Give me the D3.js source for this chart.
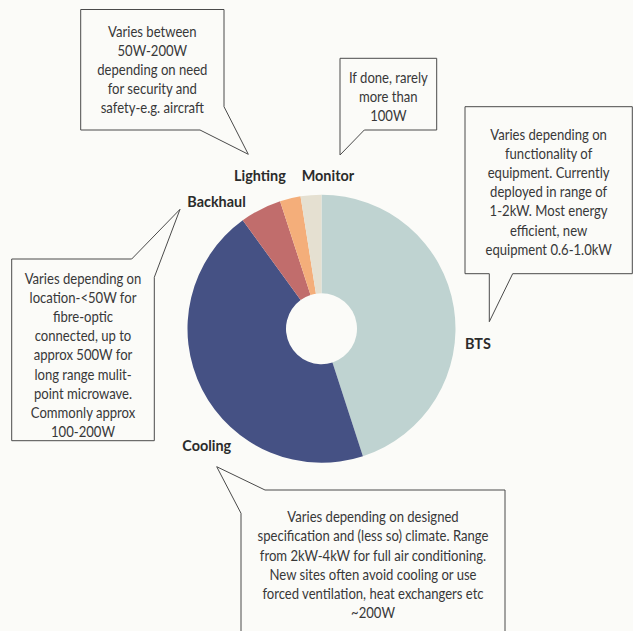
<!DOCTYPE html>
<html>
<head>
<meta charset="utf-8">
<script src="https://cdn.jsdelivr.net/npm/d3@7"></script>
<style>
  html, body { margin: 0; padding: 0; background: #fbfbf8; }
  svg { display: block; }
  .note { font-family: Lato, "Liberation Sans", sans-serif; font-size: 15.5px; fill: #383838; }
  .label { font-family: Lato, "Liberation Sans", sans-serif; font-size: 16px; font-weight: bold; fill: #2b2b2b; }
  .bubble { fill: #fbfbf8; stroke: #4a4a4a; stroke-width: 1; }
</style>
</head>
<body>
<svg id="chart" width="633" height="631"></svg>
<script>
// Share of site power by component (%)
const categories = ["BTS", "Cooling", "Backhaul", "Lighting", "Monitor"];
const shares = [45, 45, 5, 2.5, 2.5];
const sliceColors = ["#bfd3d1", "#455184", "#c16d6c", "#f4ae7a", "#e5e0d1"];

// Explanatory notes, one line per array entry
const notesBTS = ["Varies depending on", "functionality of", "equipment. Currently", "deployed in range of", "1-2kW. Most energy", "efficient, new", "equipment 0.6-1.0kW"];
const notesCooling = ["Varies depending on designed", "specification and (less so) climate. Range", "from 2kW-4kW for full air conditioning.", "New sites often avoid cooling or use", "forced ventilation, heat exchangers etc", "~200W"];
const notesBackhaul = ["Varies depending on", "location-<50W for", "fibre-optic", "connected, up to", "approx 500W for", "long range mulit-", "point microwave.", "Commonly approx", "100-200W"];
const notesLighting = ["Varies between", "50W-200W", "depending on need", "for security and", "safety-e.g. aircraft"];
const notesMonitor = ["If done, rarely", "more than", "100W"];

const svg = d3.select("#chart");
const cx = 321.5, cy = 328.7, rOuter = 134, rInner = 35.5;
// condensed look: horizontal squeeze applied to all text
const noteSqueeze = 0.845, labelSqueeze = 0.9;

const pie = d3.pie().sort(null).value(d => d.value);
const arc = d3.arc().innerRadius(rInner).outerRadius(rOuter);
const data = categories.map((c, i) => ({ name: c, value: shares[i], color: sliceColors[i] }));

svg.append("g")
  .attr("transform", `translate(${cx},${cy})`)
  .selectAll("path")
  .data(pie(data))
  .join("path")
  .attr("d", arc)
  .attr("fill", d => d.data.color);

// Callout bubbles: box outline with a pointer tail towards the label
const bubbles = [
  { name: "Lighting", lines: notesLighting, cx: 152.3, midY: 69.5,
    pts: [[80.7, 9.5], [224, 9.5], [224, 106.7], [248.3, 154.3], [200, 130], [80.7, 130]], closed: true },
  { name: "Monitor", lines: notesMonitor, cx: 388.3, midY: 96.7,
    pts: [[340, 58.3], [436.7, 58.3], [436.7, 130], [364.3, 130], [340, 155]], closed: true },
  { name: "BTS", lines: notesBTS, cx: 548.6, midY: 191.7,
    pts: [[465, 106.7], [632.3, 106.7], [632.3, 273.7], [512.7, 273.7], [489.3, 321.7], [489.3, 273.7], [465, 273.7]], closed: true },
  { name: "Backhaul", lines: notesBackhaul, cx: 83, midY: 355,
    pts: [[11.7, 259], [131.7, 259], [180, 209.3], [154.3, 277.3], [154.3, 440.7], [11.7, 440.7]], closed: true },
  { name: "Cooling", lines: notesCooling, cx: 373, midY: 564.7,
    pts: [[505, 645], [505, 490], [265, 490], [216.7, 466.7], [241, 513.3], [241, 645]], closed: false }
];

const lineGap = 19.2;
const line = d3.line();

bubbles.forEach(b => {
  svg.append("path")
    .attr("class", "bubble")
    .attr("d", line(b.pts) + (b.closed ? "Z" : ""));
  const y0 = b.midY - (b.lines.length - 1) * lineGap / 2;
  svg.append("text")
    .attr("class", "note")
    .attr("text-anchor", "middle")
    .attr("transform", `translate(${b.cx},0) scale(${noteSqueeze},1)`)
    .selectAll("tspan")
    .data(b.lines)
    .join("tspan")
    .attr("x", 0)
    .attr("y", (d, i) => y0 + i * lineGap)
    .attr("dy", "0.35em")
    .text(d => d);
});

// Slice labels
const labelPos = {
  BTS: [465, 343.5],
  Cooling: [182.3, 445.7],
  Backhaul: [187.3, 201.7],
  Lighting: [234, 175.7],
  Monitor: [301.7, 175.7]
};
svg.append("g")
  .selectAll("text")
  .data(categories)
  .join("text")
  .attr("class", "label")
  .attr("transform", d => `translate(${labelPos[d][0]},${labelPos[d][1]}) scale(${labelSqueeze},1)`)
  .attr("dy", "0.35em")
  .text(d => d);
</script>
</body>
</html>
